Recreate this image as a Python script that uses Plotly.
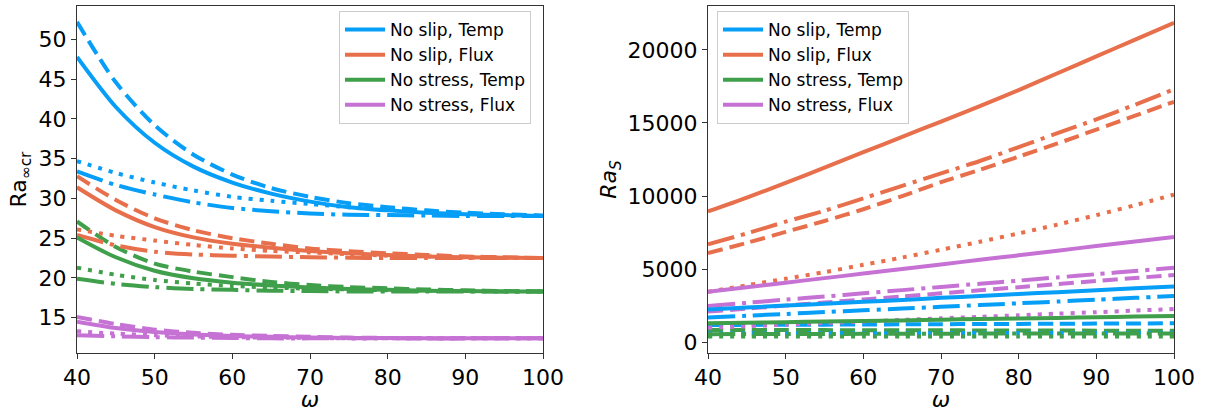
import plotly.graph_objects as go

omega = [40, 45, 50, 55, 60, 65, 70, 75, 80, 85, 90, 95, 100]

# ---- Left panel: Ra_inf_cr ----
ns_temp_solid = [47.8, 41.5, 37.0, 34.0, 32.0, 30.6, 29.6, 28.9, 28.5, 28.2, 28.0, 27.9, 27.8]
ns_temp_dash = [52.2, 44.6, 39.2, 35.5, 33.0, 31.3, 30.2, 29.4, 28.9, 28.5, 28.2, 28.0, 27.85]
ns_temp_dot = [34.7, 33.2, 32.0, 31.0, 30.2, 29.7, 29.3, 28.9, 28.6, 28.3, 28.1, 27.9, 27.8]
ns_temp_dashdot = [33.4, 31.7, 30.5, 29.5, 28.8, 28.4, 28.1, 27.95, 27.9, 27.85, 27.8, 27.8, 27.8]

ns_flux_solid = [31.4, 28.5, 26.4, 25.1, 24.3, 23.8, 23.4, 23.1, 22.9, 22.7, 22.6, 22.55, 22.5]
ns_flux_dash = [32.8, 29.8, 27.5, 26.0, 25.0, 24.3, 23.7, 23.35, 23.1, 22.9, 22.7, 22.6, 22.5]
ns_flux_dot = [26.1, 25.3, 24.7, 24.15, 23.7, 23.4, 23.2, 23.0, 22.8, 22.7, 22.6, 22.55, 22.5]
ns_flux_dashdot = [25.4, 24.1, 23.3, 22.95, 22.8, 22.7, 22.6, 22.55, 22.5, 22.5, 22.5, 22.5, 22.5]

nst_temp_solid = [25.1, 22.6, 20.9, 19.95, 19.4, 19.05, 18.8, 18.6, 18.5, 18.4, 18.35, 18.3, 18.3]
nst_temp_dash = [27.1, 23.9, 21.8, 20.8, 20.1, 19.5, 19.1, 18.85, 18.7, 18.55, 18.45, 18.35, 18.3]
nst_temp_dot = [21.3, 20.4, 19.75, 19.3, 19.0, 18.8, 18.65, 18.55, 18.45, 18.4, 18.35, 18.3, 18.3]
nst_temp_dashdot = [19.9, 19.25, 18.85, 18.6, 18.5, 18.4, 18.35, 18.3, 18.3, 18.3, 18.3, 18.3, 18.3]

nst_flux_solid = [14.5, 13.7, 13.2, 12.9, 12.7, 12.6, 12.5, 12.45, 12.45, 12.4, 12.4, 12.4, 12.4]
nst_flux_dash = [15.1, 14.2, 13.5, 13.1, 12.85, 12.7, 12.6, 12.5, 12.45, 12.4, 12.4, 12.4, 12.4]
nst_flux_dot = [13.3, 13.0, 12.8, 12.65, 12.55, 12.5, 12.45, 12.4, 12.4, 12.4, 12.4, 12.4, 12.4]
nst_flux_dashdot = [12.8, 12.65, 12.55, 12.5, 12.45, 12.4, 12.4, 12.4, 12.4, 12.4, 12.4, 12.4, 12.4]

# ---- Right panel: Ra_S ----
s_ns_flux_solid = [8950, 9900, 10900, 11950, 13000, 14050, 15100, 16150, 17250, 18400, 19550, 20700, 21850]
s_ns_flux_dashdot = [6700, 7450, 8250, 9000, 9850, 10700, 11550, 12400, 13350, 14300, 15250, 16250, 17300]
s_ns_flux_dash = [6100, 6800, 7550, 8300, 9100, 10000, 10950, 11800, 12700, 13600, 14550, 15500, 16450]
s_ns_flux_dot = [3450, 3900, 4350, 4800, 5300, 5800, 6330, 6880, 7450, 8050, 8700, 9380, 10100]

s_nst_flux_solid = [3450, 3760, 4080, 4390, 4700, 5020, 5330, 5640, 5950, 6270, 6580, 6890, 7200]
s_nst_flux_dashdot = [2480, 2700, 2920, 3130, 3350, 3570, 3790, 4010, 4220, 4440, 4660, 4880, 5100]
s_nst_flux_dash = [2100, 2300, 2510, 2720, 2930, 3140, 3350, 3560, 3770, 3980, 4190, 4400, 4600]
s_nst_flux_dot = [1000, 1100, 1210, 1320, 1420, 1530, 1640, 1740, 1850, 1960, 2060, 2170, 2280]

s_ns_temp_solid = [2250, 2380, 2510, 2640, 2770, 2900, 3040, 3170, 3300, 3430, 3560, 3690, 3820]
s_ns_temp_dashdot = [1700, 1820, 1940, 2070, 2190, 2310, 2430, 2550, 2670, 2790, 2920, 3040, 3160]
s_ns_temp_dash = [1180, 1190, 1200, 1210, 1220, 1230, 1240, 1250, 1260, 1270, 1280, 1290, 1300]
s_ns_temp_dot = [600, 605, 610, 615, 620, 625, 630, 635, 640, 640, 645, 645, 650]

s_nst_temp_solid = [1300, 1340, 1380, 1420, 1460, 1500, 1550, 1590, 1630, 1670, 1710, 1760, 1800]
s_nst_temp_dash = [850, 845, 840, 835, 830, 825, 820, 815, 810, 805, 800, 800, 800]
s_nst_temp_dot = [400, 400, 400, 400, 400, 400, 400, 400, 400, 400, 400, 400, 400]
s_nst_temp_dashdot = [560, 565, 570, 575, 580, 585, 590, 595, 600, 600, 600, 600, 600]

labels = ["No slip, Temp", "No slip, Flux", "No stress, Temp", "No stress, Flux"]
colors = ["#069EF6", "#E86F4B", "#3F9F4A", "#C672D4"]

xticks = [40, 50, 60, 70, 80, 90, 100]
yticks_left = [15, 20, 25, 30, 35, 40, 45, 50]
yticks_right = [0, 5000, 10000, 15000, 20000]

LW = 4
dashes = {
    "solid": "solid",
    "dash": "15px,7px",
    "dot": "4px,7px",
    "dashdot": "27px,7px,4px,7px",
}

left_sets = [
    [ns_temp_solid, ns_temp_dash, ns_temp_dot, ns_temp_dashdot],
    [ns_flux_solid, ns_flux_dash, ns_flux_dot, ns_flux_dashdot],
    [nst_temp_solid, nst_temp_dash, nst_temp_dot, nst_temp_dashdot],
    [nst_flux_solid, nst_flux_dash, nst_flux_dot, nst_flux_dashdot],
]
right_sets = [
    [s_ns_temp_solid, s_ns_temp_dash, s_ns_temp_dot, s_ns_temp_dashdot],
    [s_ns_flux_solid, s_ns_flux_dash, s_ns_flux_dot, s_ns_flux_dashdot],
    [s_nst_temp_solid, s_nst_temp_dash, s_nst_temp_dot, s_nst_temp_dashdot],
    [s_nst_flux_solid, s_nst_flux_dash, s_nst_flux_dot, s_nst_flux_dashdot],
]
styles = ["solid", "dash", "dot", "dashdot"]

fig = go.Figure()

for sets, xa, ya, lg in [(left_sets, "x", "y", "legend"), (right_sets, "x2", "y2", "legend2")]:
    for order in [1, 2, 3, 0]:
        for i, s in enumerate(sets):
            fig.add_trace(go.Scatter(
                x=omega, y=s[order], mode="lines",
                line=dict(color=colors[i], width=LW, dash=dashes[styles[order]], shape="spline", smoothing=0.8),
                name=labels[i], showlegend=False, legend=lg,
                xaxis=xa, yaxis=ya, hoverinfo="skip",
            ))
    for i in range(4):
        fig.add_trace(go.Scatter(
            x=[None], y=[None], mode="lines",
            line=dict(color=colors[i], width=LW),
            name=labels[i], showlegend=True, legend=lg,
            xaxis=xa, yaxis=ya,
        ))

W, H = 1205, 412
axis_common = dict(
    showline=True, linecolor="#333333", linewidth=1, mirror=True,
    ticks="outside", ticklen=5, tickwidth=1, tickcolor="#333333",
    showgrid=False, zeroline=False, automargin=False,
    tickfont=dict(size=22, color="black"),
)

fig.update_layout(
    width=W, height=H,
    margin=dict(l=0, r=0, t=0, b=0),
    paper_bgcolor="white", plot_bgcolor="white",
    font=dict(family="DejaVu Sans", color="black"),
    xaxis=dict(domain=[77 / W, 543 / W], range=[40, 100], tickvals=xticks,
               ticktext=[str(v) for v in xticks],
               title=dict(text="<i>ω</i>", font=dict(size=22), standoff=4), anchor="y", **axis_common),
    yaxis=dict(domain=[1 - 353 / H, 1 - 6 / H], range=[10.56, 54.2], tickvals=yticks_left,
               ticktext=[str(v) for v in yticks_left],
               title=dict(text="Ra<sub>∞cr</sub>", font=dict(size=22), standoff=5), anchor="x", **axis_common),
    xaxis2=dict(domain=[708 / W, 1174 / W], range=[40, 100], tickvals=xticks,
                ticktext=[str(v) for v in xticks],
                title=dict(text="<i>ω</i>", font=dict(size=22), standoff=4), anchor="y2", **axis_common),
    yaxis2=dict(domain=[1 - 353 / H, 1 - 6 / H], range=[-730, 23000], tickvals=yticks_right,
                ticktext=[str(v) for v in yticks_right],
                title=dict(text="<i>Ra<sub>S</sub></i>", font=dict(size=22), standoff=4), anchor="x2", **axis_common),
    legend=dict(x=339 / W, y=1 - 11 / H, xanchor="left", yanchor="top",
                bgcolor="rgba(255,255,255,0.8)", bordercolor="#cccccc", borderwidth=1,
                font=dict(size=17), itemwidth=40, tracegroupgap=0),
    legend2=dict(x=717 / W, y=1 - 11 / H, xanchor="left", yanchor="top",
                 bgcolor="rgba(255,255,255,0.8)", bordercolor="#cccccc", borderwidth=1,
                 font=dict(size=17), itemwidth=40, tracegroupgap=0),
    showlegend=True,
)

fig.write_html("out.html")
